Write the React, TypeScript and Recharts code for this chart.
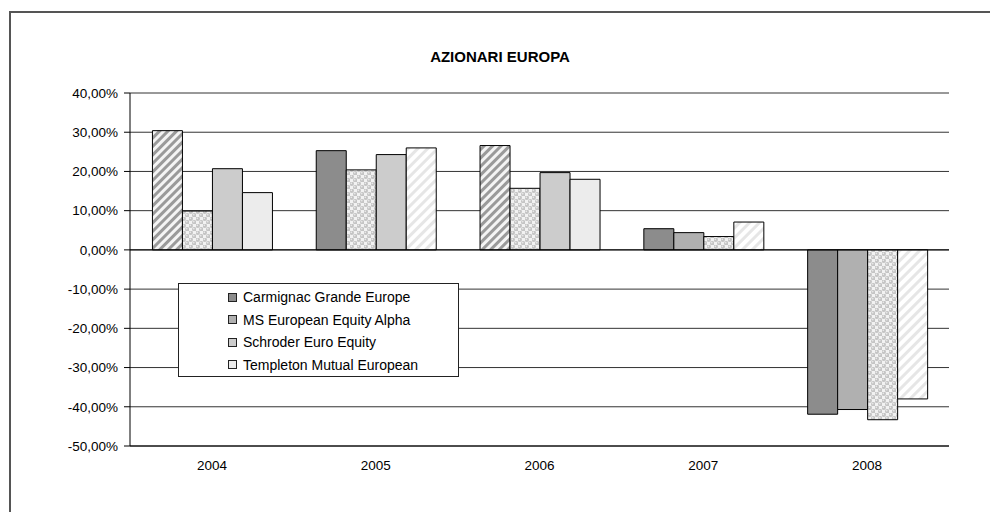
import React from 'react';
import {
  BarChart,
  Bar,
  Cell,
  XAxis,
  YAxis,
  CartesianGrid,
  ReferenceLine,
} from 'recharts';

// values in percent
const years = ['2004', '2005', '2006', '2007', '2008'];
const carmignac = [30.4, 25.3, 26.6, 5.4, -41.9];
const msEuropean = [9.9, 20.4, 15.7, 4.4, -40.7];
const schroder = [20.7, 24.3, 19.7, 3.4, -43.3];
const templeton = [14.6, 26.0, 18.0, 7.1, -38.0];
const seriesNames = [
  'Carmignac Grande Europe',
  'MS European Equity Alpha',
  'Schroder Euro Equity',
  'Templeton Mutual European',
];
const yTicks = [-50, -40, -30, -20, -10, 0, 10, 20, 30, 40];

const data = years.map((year, i) => ({
  year,
  s0: carmignac[i],
  s1: msEuropean[i],
  s2: schroder[i],
  s3: templeton[i],
}));

// per-point fills, as in the original spreadsheet chart
const DARK = '#8c8c8c';
const MID = '#b0b0b0';
const LIGHT = '#cccccc';
const PALE = '#ececec';
const HATCH = 'url(#hatchDark)';
const HATCH_LIGHT = 'url(#hatchLight)';
const DOTS = 'url(#dots)';

const pointFills = [
  [HATCH, DARK, HATCH, DARK, DARK],
  [DOTS, DOTS, DOTS, MID, MID],
  [LIGHT, LIGHT, LIGHT, DOTS, DOTS],
  [PALE, HATCH_LIGHT, PALE, HATCH_LIGHT, HATCH_LIGHT],
];
const legendFills = [DARK, MID, LIGHT, PALE];

const fmt = (v: number) => `${v.toFixed(2).replace('.', ',')}%`;

const FONT = '"Liberation Sans", Arial, sans-serif';

const LegendBox = () => (
  <div
    style={{
      position: 'absolute',
      left: 178,
      top: 283,
      width: 281,
      height: 94,
      border: '1px solid #222',
      background: '#fff',
      fontFamily: FONT,
      fontSize: 14,
      color: '#000',
      paddingTop: 2,
      boxSizing: 'border-box',
    }}
  >
    {seriesNames.map((name, i) => (
      <div key={name} style={{ display: 'flex', alignItems: 'center', height: 22.5, paddingLeft: 49 }}>
        <span
          style={{
            display: 'inline-block',
            width: 7,
            height: 7,
            border: '1px solid #222',
            background: legendFills[i],
            marginRight: 6,
          }}
        />
        {name}
      </div>
    ))}
  </div>
);

const App: React.FC = () => {
  return (
    <div style={{ position: 'absolute', left: 0, top: 0, width: 990, height: 512, background: '#fff' }}>
      <div
        style={{
          position: 'absolute',
          left: 9,
          top: 11,
          width: 981,
          height: 501,
          borderTop: '2px solid #555',
          borderLeft: '2px solid #555',
        }}
      />
      <div
        style={{
          position: 'absolute',
          left: 0,
          width: 1000,
          top: 48,
          textAlign: 'center',
          fontFamily: FONT,
          fontWeight: 'bold',
          fontSize: 15,
        }}
      >
        AZIONARI EUROPA
      </div>
      <div style={{ position: 'absolute', left: 0, top: 0 }}>
        <BarChart
          width={990}
          height={512}
          data={data}
          margin={{ top: 93, right: 41, bottom: 36, left: 0 }}
          barCategoryGap="13.7%"
          barGap={0}
        >
          <defs>
            <pattern id="hatchDark" patternUnits="userSpaceOnUse" width="6" height="6" patternTransform="rotate(45)">
              <rect x="0" y="0" width="6" height="6" fill="#f4f4f4" />
              <rect x="0" y="0" width="3" height="6" fill="#9a9a9a" />
            </pattern>
            <pattern id="hatchLight" patternUnits="userSpaceOnUse" width="7" height="7" patternTransform="rotate(45)">
              <rect x="0" y="0" width="7" height="7" fill="#ffffff" />
              <rect x="0" y="0" width="3" height="7" fill="#e6e6e6" />
            </pattern>
            <pattern id="dots" patternUnits="userSpaceOnUse" width="7" height="7">
              <rect x="0" y="0" width="7" height="7" fill="#f2f2f2" />
              <circle cx="1.75" cy="1.75" r="2.2" fill="#c4c4c4" />
              <circle cx="5.25" cy="5.25" r="2.2" fill="#c4c4c4" />
              <circle cx="1.3" cy="1.3" r="0.8" fill="#eeeeee" />
              <circle cx="4.8" cy="4.8" r="0.8" fill="#eeeeee" />
            </pattern>
          </defs>
          <CartesianGrid vertical={false} stroke="#333" />
          <XAxis
            dataKey="year"
            height={30}
            axisLine={{ stroke: '#000' }}
            tickLine={false}
            tickSize={0}
            tickMargin={14}
            tick={{ fill: '#000', fontSize: 13.5, fontFamily: FONT }}
          />
          <YAxis
            width={130}
            domain={[-50, 40]}
            ticks={yTicks}
            interval={0}
            tickFormatter={fmt}
            axisLine={{ stroke: '#000' }}
            tickLine={{ stroke: '#000' }}
            tickSize={6}
            tickMargin={6}
            tick={{ fill: '#000', fontSize: 13.5, fontFamily: FONT }}
          />
          <ReferenceLine y={0} stroke="#000" />
          {['s0', 's1', 's2', 's3'].map((key, si) => (
            <Bar
              key={key}
              dataKey={key}
              name={seriesNames[si]}
              stroke="#000"
              strokeWidth={1}
              isAnimationActive={false}
            >
              {data.map((_, ci) => (
                <Cell key={`${key}-${ci}`} fill={pointFills[si][ci]} />
              ))}
            </Bar>
          ))}
        </BarChart>
      </div>
      <LegendBox />
    </div>
  );
};

export default App;
